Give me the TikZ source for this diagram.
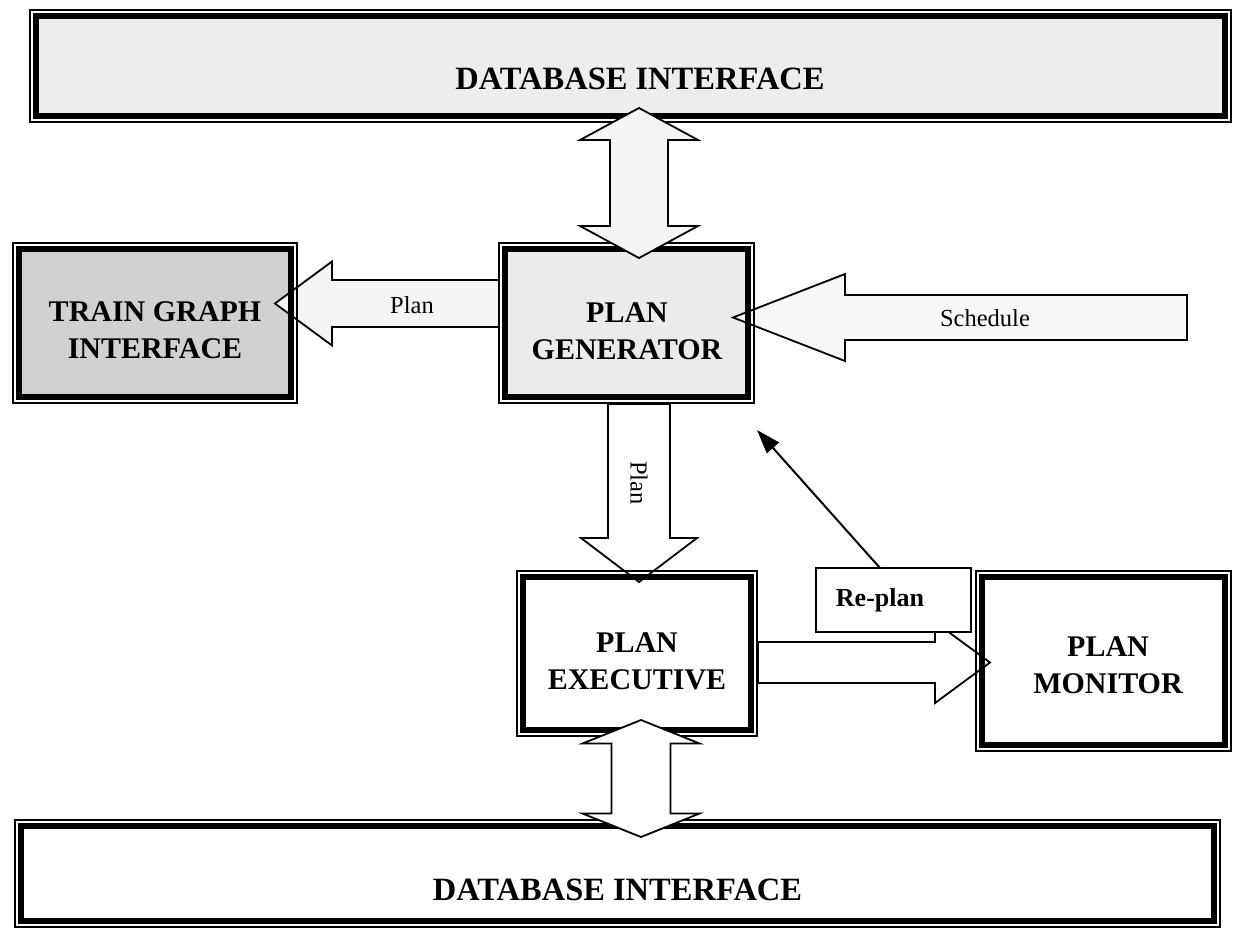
\documentclass[tikz,border=0pt]{standalone}
\usepackage{fontspec}
\setmainfont{Liberation Serif}
\usetikzlibrary{calc,arrows.meta}

% block arrow: [options]{tail}{tip}{shaft half-width}{head half-width}{head length}
\newcommand\blockarrow[6][]{%
  \path ($(#3)!#6!(#2)$) coordinate (baBase);
  \draw[fatline,#1] ($(#2)!#4!90:(#3)$) -- ($(baBase)!#4!90:(#3)$)
    -- ($(baBase)!#5!90:(#3)$) -- (#3) -- ($(baBase)!#5!-90:(#3)$)
    -- ($(baBase)!#4!-90:(#3)$) -- ($(#2)!#4!-90:(#3)$) -- cycle;}

% two-headed block arrow: [options]{end A}{end B}{shaft half-width}{head half-width}{head length}
\newcommand\twinarrow[6][]{%
  \path ($(#2)!#6!(#3)$) coordinate (taA) ($(#3)!#6!(#2)$) coordinate (taB);
  \draw[fatline,#1] (#2) -- ($(taA)!#5!90:(#3)$) -- ($(taA)!#4!90:(#3)$)
    -- ($(taB)!#4!-90:(#2)$) -- ($(taB)!#5!-90:(#2)$) -- (#3)
    -- ($(taB)!#5!90:(#2)$) -- ($(taB)!#4!90:(#2)$)
    -- ($(taA)!#4!-90:(#3)$) -- ($(taA)!#5!-90:(#3)$) -- cycle;}

\begin{document}
\begin{tikzpicture}[x=1pt,y=-1pt,
  panel/.style={rectangle, inner sep=0pt, outer sep=0pt},
  heavy/.style={line width=6.5pt},
  rim/.style={line width=1.3pt},
  fatline/.style={draw=black, line width=1.8pt, line join=miter, fill=white},
  caps/.style={font=\bfseries\fontsize{30}{37}\selectfont, align=center, inner sep=0pt},
  dbcaps/.style={font=\bfseries\fontsize{32.5}{37}\selectfont, inner sep=0pt},
  word/.style={font=\fontsize{24.5}{28}\selectfont, inner sep=0pt},
]
\useasboundingbox (0,0) rectangle (1233,930);

% panels (fill only; frames are stroked later)
\node[panel, fill=black!7,  minimum width=1189pt, minimum height=100pt] (db1) at (630.5,66) {};
\node[panel, fill=black!18, minimum width=272pt,  minimum height=148pt] (tg)  at (155,323) {};
\node[panel, fill=black!8,  minimum width=243pt,  minimum height=148pt] (pg)  at (626.5,323) {};
\node[panel, fill=white,    minimum width=228pt,  minimum height=153pt] (ex)  at (637,653.5) {};
\node[panel, fill=white,    minimum width=243pt,  minimum height=168pt] (mo)  at (1103.5,661) {};
\node[panel, fill=white,    minimum width=1193pt, minimum height=95pt]  (db2) at (617.5,873.5) {};

% arrow end points
\coordinate (planTail)  at ([shift={(-6,-19.5)}]pg.west);
\coordinate (planTip)   at ([shift={(-16,-19.5)}]tg.east);
\coordinate (schedSrc)  at (1187,317.5);
\coordinate (schedTip)  at ([shift={(-15,-5.5)}]pg.east);
\coordinate (downTail)  at ([shift={(12.5,7)}]pg.south);
\coordinate (downTip)   at ([shift={(2,5)}]ex.north);
\coordinate (monTail)   at ([shift={(7,9)}]ex.east);
\coordinate (monTip)    at ([shift={(8,1.5)}]mo.west);
\coordinate (topA)      at ([shift={(8.5,-8)}]db1.south);
\coordinate (topB)      at ([shift={(12.5,9)}]pg.north);
\coordinate (lowA)      at ([shift={(4,-10)}]ex.south);
\coordinate (lowB)      at ([shift={(23.5,11)}]db2.north);
\coordinate (rpTip)     at ([shift={(9,33)}]pg.south east);

% single block arrows (under the frames)
\blockarrow[fill=black!4]{planTail}{planTip}{23.5pt}{42pt}{57pt}
\blockarrow[fill=black!3]{schedSrc}{schedTip}{22.5pt}{43.5pt}{112pt}
\blockarrow{downTail}{downTip}{31pt}{58pt}{44pt}
\blockarrow{monTail}{monTip}{20.5pt}{40.5pt}{55pt}

% thick-and-thin frames
\foreach \b in {db1,tg,pg,ex,mo,db2}{
  \draw[heavy] (\b.north west) rectangle (\b.south east);
  \draw[rim] ([shift={(-6,-6)}]\b.north west) rectangle ([shift={(6,6)}]\b.south east);
}

% two-headed arrows to the database interfaces
\twinarrow[fill=black!4]{topA}{topB}{29pt}{59pt}{32pt}
\twinarrow{lowA}{lowB}{29.5pt}{58.5pt}{23.5pt}

% panel labels
\node[dbcaps] (db1l) at ([shift={(9.5,13)}]db1.center) {DATABASE INTERFACE};
\node[caps]   (tgl)  at ([shift={(0,7)}]tg.center) {TRAIN GRAPH\\INTERFACE};
\node[caps]   (pgl)  at ([shift={(0.5,8)}]pg.center) {PLAN\\GENERATOR};
\node[caps]   (exl)  at ([shift={(0,7.5)}]ex.center) {PLAN\\EXECUTIVE};
\node[caps]   (mol)  at ([shift={(4.5,4)}]mo.center) {PLAN\\MONITOR};
\node[dbcaps] (db2l) at ([shift={(0,16)}]db2.center) {DATABASE INTERFACE};

% arrow labels
\node[word] (planL)  at ([shift={(-93,-18)}]pg.west) {Plan};
\node[word] (schedL) at ([shift={(-202,0.5)}]schedSrc) {Schedule};
\node[word, rotate=-90] (downL) at ([shift={(12.5,86)}]pg.south) {Plan};

% re-plan request
\node[panel, draw, line width=1.4pt, fill=white, minimum width=155pt, minimum height=64pt] (rp) at (893.5,600) {};
\node[font=\bfseries\fontsize{26}{30}\selectfont, inner sep=0pt] (rpl) at ([xshift=-13.5]rp.center) {Re-plan};
\draw[line width=2pt, -{Triangle[length=24pt,width=16pt]}] ([xshift=-13.5]rp.north) -- (rpTip);
\end{tikzpicture}
\end{document}
